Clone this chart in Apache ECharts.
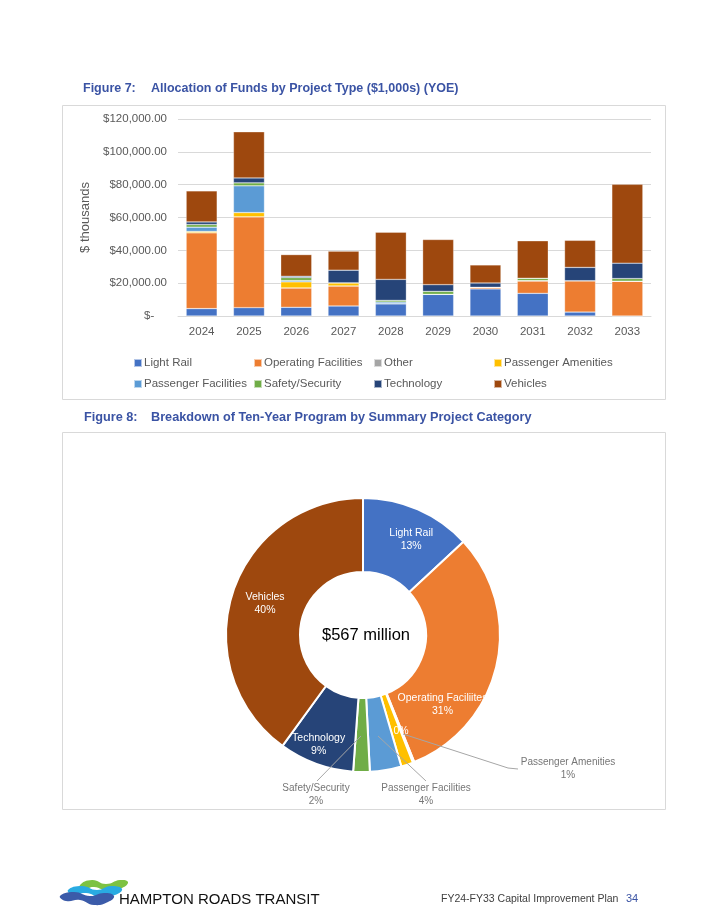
<!DOCTYPE html>
<html><head><meta charset="utf-8">
<script src="https://cdn.jsdelivr.net/npm/echarts@6/dist/echarts.min.js"></script>
<style>html,body{margin:0;padding:0;background:#fff}#c{width:727px;height:919px}</style>
</head><body><div id="c"></div>
<script>
// ---------- DATA ----------
const years = ['2024','2025','2026','2027','2028','2029','2030','2031','2032','2033'];
const seriesNames = ['Light Rail','Operating Facilities','Other','Passenger Amenities','Passenger Facilities','Safety/Security','Technology','Vehicles'];
const lightRail = [4500, 5100, 5300, 6100, 7500, 13200, 16500, 13800, 2400, 0];
const operatingFacilities = [46200, 55300, 11800, 12200, 0, 0, 1000, 7500, 19100, 21200];
const other = [0, 0, 0, 0, 0, 0, 0, 300, 0, 0];
const passengerAmenities = [800, 2600, 3700, 1900, 0, 0, 0, 0, 0, 0];
const passengerFacilities = [2600, 16300, 800, 0, 1000, 0, 0, 0, 0, 0];
const safetySecurity = [1600, 1800, 1800, 0, 1000, 1800, 0, 1400, 0, 1600];
const technology = [1600, 3000, 800, 7700, 12800, 4100, 2600, 0, 8100, 9400];
const vehicles = [18900, 28100, 13200, 11600, 28700, 27500, 11000, 22800, 16500, 48000];
const yMin = 0, yMax = 120000, yStep = 20000;

const pieNames = ['Light Rail','Operating Faciliites','Other','Passenger Amenities','Passenger Facilities','Safety/Security','Technology','Vehicles'];
const pieValues = [74, 174, 1, 8, 21, 11, 50, 226]; // $ millions
const pieTotalLabel = '$567 million';

const fig7Num = 'Figure 7:';
const fig7Title = 'Allocation of Funds by Project Type ($1,000s) (YOE)';
const fig8Num = 'Figure 8:';
const fig8Title = 'Breakdown of Ten-Year Program by Summary Project Category';
const yAxisName = '$ thousands';
const footerOrg = 'HAMPTON ROADS TRANSIT';
const footerDoc = 'FY24-FY33 Capital Improvement Plan';
const footerPage = '34';

// ---------- STYLE ----------
const colors = ['#4472C4','#ED7D31','#A5A5A5','#FFC000','#5B9BD5','#70AD47','#264478','#9E480E'];
const seriesData = [lightRail, operatingFacilities, other, passengerAmenities, passengerFacilities, safetySecurity, technology, vehicles];
const FONT = 'Liberation Sans, Arial, sans-serif';
const titleBlue = '#3A53A4';

const legendX = [128, 248, 368, 488];

const pieLabelCfg = [
  {pos:'inside', dx:7, dy:-1},
  {pos:'inside', dx:-21, dy:47},
  {pos:'inside', pctOnly:true},
  {pos:'outside', x:568, y:769, line:[[403,734],[508,768],[518,769]]},
  {pos:'outside', x:426, y:795, line:[[378,736],[426,781]]},
  {pos:'outside', x:316, y:795, line:[[361,736],[317,781]]},
  {pos:'inside', dx:-9, dy:13},
  {pos:'inside', dx:0, dy:0}
];

const chart = echarts.init(document.getElementById('c'), null, {renderer:'canvas'});

const fmt = (c) => (p => c.pctOnly ? Math.round(p.percent) + '%' : p.name + '\n' + Math.round(p.percent) + '%');

// main ring: slices + inside labels
const pieData = pieNames.map((n, i) => {
  const c = pieLabelCfg[i];
  const inside = c.pos === 'inside';
  return {
    name: n, value: pieValues[i],
    itemStyle: {color: colors[i]},
    label: {show: inside, position: 'inside', color: '#ffffff', fontSize: 10.5, lineHeight: 13, formatter: fmt(c)},
    labelLine: {show: false}
  };
});
// overlay ring (transparent): outside labels with leader lines drawn over the slices
const pieOverlayData = pieNames.map((n, i) => {
  const c = pieLabelCfg[i];
  const outside = c.pos === 'outside';
  return {
    name: n, value: pieValues[i],
    itemStyle: {color: 'rgba(0,0,0,0)', borderWidth: 0},
    label: {show: outside, position: 'outside', color: '#767676', fontSize: 10, lineHeight: 13, formatter: fmt(c)},
    labelLine: {show: outside, lineStyle: {color: '#a6a6a6', width: 1}}
  };
});

const pieCommon = {
  type: 'pie', center: [363, 635], radius: [63, 137],
  startAngle: 90, clockwise: true, avoidLabelOverlap: false,
  emphasis: {disabled: true}
};

const option = {
  animation: false,
  textStyle: {fontFamily: FONT},
  color: colors,
  grid: {left: 178, right: 76, top: 119, height: 197, containLabel: false},
  xAxis: {
    type: 'category', data: years,
    axisLine: {lineStyle: {color: '#d9d9d9'}},
    axisTick: {show: false},
    axisLabel: {color: '#595959', fontSize: 11.5, margin: 10}
  },
  yAxis: {
    type: 'value', min: yMin, max: yMax, interval: yStep,
    name: yAxisName, nameLocation: 'middle', nameRotate: 90, nameGap: 81,
    nameTextStyle: {color: '#595959', fontSize: 13},
    axisLine: {show: false}, axisTick: {show: false},
    splitLine: {lineStyle: {color: '#d9d9d9'}},
    axisLabel: {
      color: '#595959', fontSize: 11.5, margin: 11,
      formatter: v => v === 0 ? '$-    ' : '$' + v.toLocaleString('en-US', {minimumFractionDigits: 2, maximumFractionDigits: 2})
    }
  },
  legend: [0,1,2,3].map(c => ({
    orient: 'vertical', left: legendX[c], top: 352,
    itemWidth: 8, itemHeight: 8, itemGap: 9, icon: 'rect',
    selectedMode: false,
    data: [seriesNames[c], seriesNames[c + 4]],
    textStyle: {color: '#595959', fontSize: 11.5, padding: [0, 0, 0, -3]}
  })),
  series: seriesNames.map((n, i) => ({
    name: n, type: 'bar', stack: 'total', barWidth: 31,
    data: seriesData[i],
    itemStyle: {color: colors[i], borderColor: 'rgba(255,255,255,0.6)', borderWidth: 0.5}
  })).concat([
    Object.assign({}, pieCommon, {
      z: 2,
      itemStyle: {borderColor: '#ffffff', borderWidth: 2},
      data: pieData,
      labelLayout: function (params) {
        const c = pieLabelCfg[params.dataIndex];
        return {dx: c.dx || 0, dy: c.dy || 0};
      }
    }),
    Object.assign({}, pieCommon, {
      z: 5, silent: true,
      data: pieOverlayData,
      labelLayout: function (params) {
        const c = pieLabelCfg[params.dataIndex];
        if (c.pos === 'outside') {
          return {x: c.x, y: c.y, align: 'center', verticalAlign: 'middle', labelLinePoints: c.line};
        }
        return {};
      }
    })
  ]),
  graphic: [
    {type: 'rect', shape: {x: 62.5, y: 105.5, width: 603, height: 294}, style: {fill: 'none', stroke: '#d9d9d9', lineWidth: 1}, silent: true},
    {type: 'rect', shape: {x: 62.5, y: 432.5, width: 603, height: 377}, style: {fill: 'none', stroke: '#d9d9d9', lineWidth: 1}, silent: true},
    {type: 'text', left: 83, top: 82, style: {text: fig7Num, fill: titleBlue, font: 'bold 12.5px ' + FONT}},
    {type: 'text', left: 151, top: 82, style: {text: fig7Title, fill: titleBlue, font: 'bold 12.5px ' + FONT}},
    {type: 'text', left: 84, top: 411, style: {text: fig8Num, fill: titleBlue, font: 'bold 12.7px ' + FONT}},
    {type: 'text', left: 151, top: 411, style: {text: fig8Title, fill: titleBlue, font: 'bold 12.7px ' + FONT}},
    {type: 'text', x: 366, y: 635, z: 10, style: {text: pieTotalLabel, fill: '#000000', font: '16.5px ' + FONT, align: 'center', verticalAlign: 'middle'}},
    // logo swooshes
    {type: 'polygon', shape: {smooth: 0.5, points: [[80,885],[92,880],[106,884],[120,880],[128,882],[122,888],[108,891],[94,887],[84,889]]}, style: {fill: '#7DC242'}},
    {type: 'polygon', shape: {smooth: 0.5, points: [[68,890],[82,886],[97,890],[111,886],[122,889],[115,895],[100,897],[86,893],[73,895]]}, style: {fill: '#29ABE2'}},
    {type: 'polygon', shape: {smooth: 0.5, points: [[60,896],[74,892],[90,896],[104,893],[114,896],[108,902],[94,905],[80,900],[66,901]]}, style: {fill: '#3B5BA9'}},
    {type: 'text', x: 119, y: 900, style: {text: footerOrg, fill: '#111111', font: '15px ' + FONT, verticalAlign: 'middle'}},
    {type: 'text', x: 441, y: 899, style: {text: footerDoc, fill: '#404040', font: '10.5px ' + FONT, verticalAlign: 'middle'}},
    {type: 'text', x: 626, y: 899, style: {text: footerPage, fill: titleBlue, font: '11px ' + FONT, verticalAlign: 'middle'}}
  ]
};
chart.setOption(option);
</script>
</body></html>
